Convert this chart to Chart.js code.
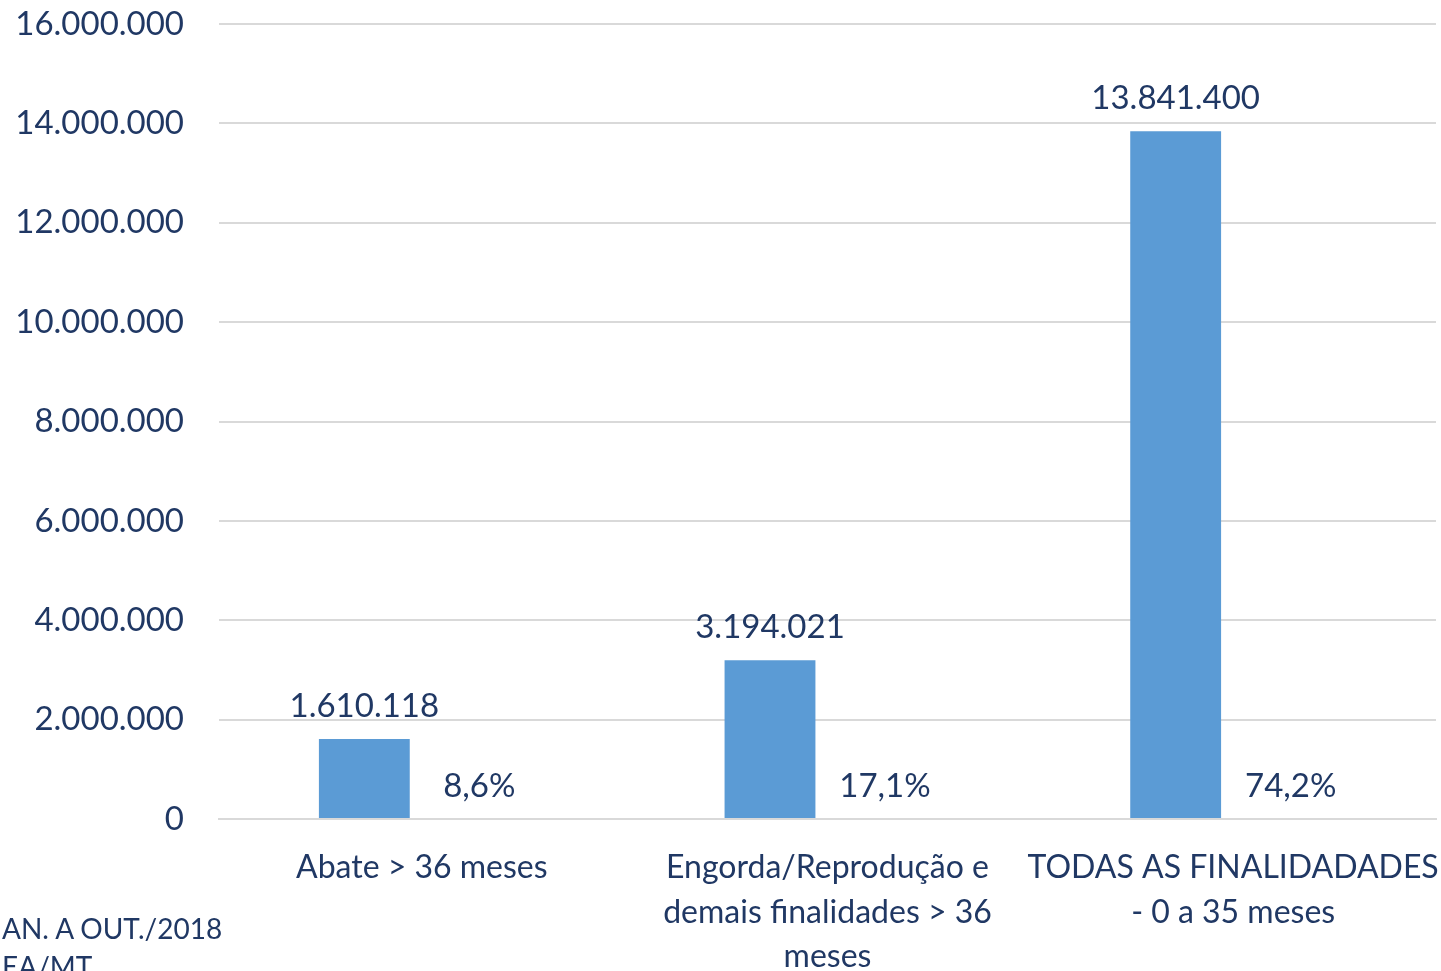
<!DOCTYPE html>
<html>
<head>
<meta charset="utf-8">
<script src="https://cdn.jsdelivr.net/npm/chart.js@4/dist/chart.umd.min.js"></script>
<style>
  html, body { margin: 0; padding: 0; background: #fff; }
  #wrap { position: relative; width: 1441px; height: 971px; overflow: hidden; }
  canvas { display: block; }
  .foot { position: absolute; left: 2px; font-family: Lato, "Open Sans", sans-serif; font-size: 28px; color: #203864; white-space: nowrap; }
</style>
</head>
<body>
<div id="wrap">
  <canvas id="c" width="1441" height="971"></canvas>
  <div class="foot" style="top:911px;">AN. A OUT./2018</div>
  <div class="foot" style="top:949px;">EA/MT</div>
</div>
<script>
const categories = [
  ["Abate > 36 meses"],
  ["Engorda/Reprodução e", "demais finalidades > 36", "meses"],
  ["TODAS AS FINALIDADADES", "- 0 a 35 meses"]
];
const headcount = [1610118, 3194021, 13841400];
const percentShare = [8.6, 17.1, 74.2];
const yTicks = [0, 2000000, 4000000, 6000000, 8000000, 10000000, 12000000, 14000000, 16000000];

const textColor = '#203864';
const fontFamily = 'Lato, "Open Sans", sans-serif';

function fmtThousands(v) {
  return String(Math.round(v)).replace(/\B(?=(\d{3})+(?!\d))/g, '.');
}
function fmtPct(v) {
  return v.toFixed(1).replace('.', ',') + '%';
}

const labelPlugin = {
  id: 'barLabels',
  afterDatasetsDraw(chart) {
    const ctx = chart.ctx;
    ctx.save();
    ctx.font = '33px ' + fontFamily;
    ctx.fillStyle = textColor;
    ctx.textAlign = 'center';
    ctx.textBaseline = 'middle';
    chart.data.datasets.forEach((ds, di) => {
      const meta = chart.getDatasetMeta(di);
      meta.data.forEach((el, i) => {
        const txt = di === 0 ? fmtThousands(headcount[i]) : fmtPct(percentShare[i]);
        ctx.fillText(txt, el.x, el.y - 33);
      });
    });
    ctx.restore();
  }
};

new Chart(document.getElementById('c'), {
  type: 'bar',
  data: {
    labels: categories,
    datasets: [
      { label: 'Cabeças', data: headcount, backgroundColor: '#5b9bd5', categoryPercentage: 0.567, barPercentage: 0.79 },
      { label: '%', data: percentShare, backgroundColor: 'rgba(0,0,0,0)', categoryPercentage: 0.567, barPercentage: 0.79 }
    ]
  },
  options: {
    responsive: false,
    animation: false,
    devicePixelRatio: 1,
    layout: { padding: { top: 24, right: 5, left: 0, bottom: 0 } },
    plugins: { legend: { display: false }, tooltip: { enabled: false } },
    scales: {
      x: {
        grid: { display: false, drawTicks: false },
        border: { display: true, color: '#d9d9d9', width: 2 },
        ticks: {
          color: textColor,
          font: { family: fontFamily, size: 32, lineHeight: 1.4 },
          padding: 26,
          maxRotation: 0,
          autoSkip: false
        },
        afterFit(scale) {
          scale.height = 152;
          scale.paddingLeft = 0; scale.paddingRight = 0;
          scale.paddingTop = 0; scale.paddingBottom = 0;
        }
      },
      y: {
        min: 0,
        max: 16000000,
        afterBuildTicks(scale) { scale.ticks = yTicks.map(v => ({ value: v })); },
        grid: { color: '#d9d9d9', lineWidth: 2, drawTicks: false },
        border: { display: false },
        ticks: {
          color: textColor,
          font: { family: fontFamily, size: 33 },
          padding: 35,
          callback: (v) => fmtThousands(v)
        },
        afterFit(scale) {
          scale.width = 219;
          scale.paddingTop = 0; scale.paddingBottom = 0;
          scale.paddingLeft = 0; scale.paddingRight = 0;
        }
      }
    }
  },
  plugins: [labelPlugin]
});
</script>
</body>
</html>
